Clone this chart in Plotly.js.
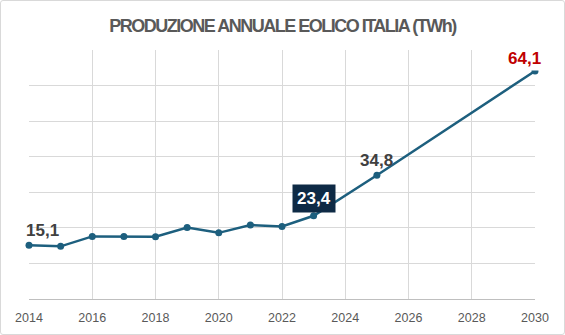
<!DOCTYPE html>
<html>
<head>
<meta charset="utf-8">
<script src="https://cdn.plot.ly/plotly-3.0.1.min.js"></script>
<style>
html,body{margin:0;padding:0;background:#fff;}
#wrap{position:relative;width:565px;height:335px;}
#chart{position:absolute;left:0;top:0;width:565px;height:335px;}
#frame{position:absolute;left:0;top:0;width:563px;height:333px;border:1px solid #d9d9d9;border-radius:3px;pointer-events:none;}
.gtitle{letter-spacing:-1.5px;}
</style>
</head>
<body>
<div id="wrap"><div id="chart"></div><div id="frame"></div></div>
<script>
var years = [2014, 2015, 2016, 2017, 2018, 2019, 2020, 2021, 2022, 2023, 2025, 2030];
var production = [15.1, 14.8, 17.6, 17.6, 17.5, 20.1, 18.6, 20.8, 20.4, 23.4, 34.8, 64.1];
var xTicks = [2014, 2016, 2018, 2020, 2022, 2024, 2026, 2028, 2030];
var labelYears = [2014, 2023, 2025, 2030];
var labelTexts = ['15,1', '23,4', '34,8', '64,1'];

function valueOf(yr){ return production[years.indexOf(yr)]; }

var trace = {
  x: years, y: production, type: 'scatter', mode: 'lines+markers',
  line: {color: '#1d5f7e', width: 2.5},
  marker: {color: '#1d5f7e', size: 7},
  hoverinfo: 'none', cliponaxis: false
};

var annStyles = [
  {xshift: 13, yshift: 15, color: '#404040'},
  {xshift: 0, yshift: 17, color: '#ffffff', bgcolor: '#0e2a45', borderpad: 4},
  {xshift: 0, yshift: 15, color: '#404040'},
  {xshift: -11, yshift: 12, color: '#c00000', bgcolor: '#ffffff', borderpad: 2}
];

var annotations = labelYears.map(function(yr, i){
  var s = annStyles[i];
  var a = {
    x: yr, y: valueOf(yr), xref: 'x', yref: 'y', text: '<b>' + labelTexts[i] + '</b>', showarrow: false,
    xshift: s.xshift, yshift: s.yshift, yanchor: 'middle', xanchor: 'center',
    font: {family: 'Liberation Sans, Arial, sans-serif', size: 17, color: s.color}
  };
  if (s.bgcolor) { a.bgcolor = s.bgcolor; a.borderpad = s.borderpad; }
  return a;
});

var layout = {
  width: 565, height: 335,
  margin: {l: 29, r: 30, t: 50, b: 36},
  paper_bgcolor: '#ffffff', plot_bgcolor: '#ffffff',
  title: {text: '<b>PRODUZIONE ANNUALE EOLICO ITALIA (TWh)</b>', x: 0.5, xanchor: 'center', y: 1, yref: 'paper', yanchor: 'bottom', pad: {b: 18},
    font: {family: 'Liberation Sans, Arial, sans-serif', size: 18, color: '#595959'}},
  xaxis: {
    range: [2014, 2030], tickvals: xTicks, ticktext: xTicks.map(String),
    showgrid: true, gridcolor: '#d9d9d9', gridwidth: 1,
    showline: true, linecolor: '#bfbfbf', linewidth: 1,
    ticks: '', ticklen: 0, ticklabelstandoff: 7,
    tickfont: {family: 'Liberation Sans, Arial, sans-serif', size: 12.5, color: '#595959'},
    zeroline: false, fixedrange: true
  },
  yaxis: {
    range: [0, 70], dtick: 10, tick0: 0,
    showgrid: true, gridcolor: '#d9d9d9', gridwidth: 1,
    showticklabels: false, showline: false, zeroline: false, ticks: '', fixedrange: true
  },
  annotations: annotations,
  showlegend: false
};

Plotly.newPlot('chart', [trace], layout, {displayModeBar: false, staticPlot: true});
</script>
</body>
</html>
